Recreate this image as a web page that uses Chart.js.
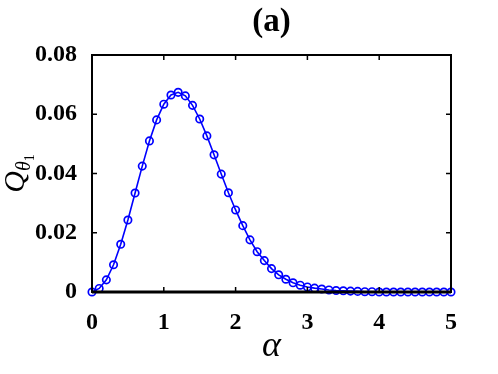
<!DOCTYPE html>
<html>
<head>
<meta charset="utf-8">
<script src="https://cdn.jsdelivr.net/npm/chart.js@4/dist/chart.umd.min.js"></script>
<style>
  html, body { margin: 0; padding: 0; background: #fff; }
  #wrap { width: 498px; height: 374px; }
</style>
</head>
<body>
<div id="wrap"><canvas id="qChart" width="498" height="374"></canvas></div>
<script>
// alpha from 0 to 5, step 0.1
const alphaVals = [
  0.0, 0.1, 0.2, 0.3, 0.4, 0.5, 0.6, 0.7, 0.8, 0.9,
  1.0, 1.1, 1.2, 1.3, 1.4, 1.5, 1.6, 1.7, 1.8, 1.9,
  2.0, 2.1, 2.2, 2.3, 2.4, 2.5, 2.6, 2.7, 2.8, 2.9,
  3.0, 3.1, 3.2, 3.3, 3.4, 3.5, 3.6, 3.7, 3.8, 3.9,
  4.0, 4.1, 4.2, 4.3, 4.4, 4.5, 4.6, 4.7, 4.8, 4.9, 5.0
];
const qVals = [
  0.0000, 0.0012, 0.0041, 0.0092, 0.0161, 0.0243, 0.0334, 0.0425, 0.0510, 0.0581,
  0.0634, 0.0665, 0.0674, 0.0662, 0.0630, 0.0584, 0.0527, 0.0463, 0.0398, 0.0335,
  0.0277, 0.0224, 0.0176, 0.0136, 0.0106, 0.0079, 0.0058, 0.0043, 0.0031, 0.0023,
  0.0017, 0.0013, 0.0010, 0.0007, 0.0005, 0.0004, 0.0003, 0.0002, 0.0001, 0.0001,
  0.0000, 0.0000, 0.0000, 0.0000, 0.0000, 0.0000, 0.0000, 0.0000, 0.0000, 0.0000, 0.0000
];
const xTicks = [0, 1, 2, 3, 4, 5];
const yTicks = [0, 0.02, 0.04, 0.06, 0.08];

const SERIF = '"Liberation Serif", "DejaVu Serif", serif';

// frame, inward ticks and the axis labels
const framePlugin = {
  id: 'frame',
  afterDraw(chart) {
    const { ctx, chartArea: a, scales } = chart;
    ctx.save();
    ctx.strokeStyle = '#000';
    ctx.lineWidth = 1.5;
    const tl = 5;
    ctx.beginPath();
    xTicks.forEach(v => {
      const px = scales.x.getPixelForValue(v);
      ctx.moveTo(px, a.bottom); ctx.lineTo(px, a.bottom - tl);
      ctx.moveTo(px, a.top); ctx.lineTo(px, a.top + tl);
    });
    yTicks.forEach(v => {
      const py = scales.y.getPixelForValue(v);
      ctx.moveTo(a.left, py); ctx.lineTo(a.left + tl, py);
      ctx.moveTo(a.right, py); ctx.lineTo(a.right - tl, py);
    });
    ctx.stroke();
    ctx.lineWidth = 2;
    ctx.strokeRect(a.left, a.top, a.right - a.left, a.bottom - a.top);
    // thicker bottom axis
    ctx.lineWidth = 3;
    ctx.beginPath();
    ctx.moveTo(a.left, a.bottom); ctx.lineTo(a.right, a.bottom);
    ctx.stroke();

    ctx.fillStyle = '#000';
    // title
    ctx.font = 'bold 33px ' + SERIF;
    ctx.textAlign = 'center';
    ctx.textBaseline = 'middle';
    ctx.fillText('(a)', (a.left + a.right) / 2, 22);
    // x label
    ctx.font = 'italic 36px ' + SERIF;
    ctx.fillText('\u03b1', (a.left + a.right) / 2, 347);
    // y label, rotated
    ctx.translate(24, (a.top + a.bottom) / 2);
    ctx.rotate(-Math.PI / 2);
    ctx.textBaseline = 'alphabetic';
    ctx.textAlign = 'left';
    ctx.font = 'italic 30px ' + SERIF;
    const qw = ctx.measureText('Q').width;
    ctx.font = 'italic 20px ' + SERIF;
    const tw = ctx.measureText('\u03b8').width;
    ctx.font = '14px ' + SERIF;
    const ow = ctx.measureText('1').width;
    const x0 = -(qw + tw + ow) / 2;
    ctx.font = 'italic 30px ' + SERIF;
    ctx.fillText('Q', x0, 0);
    ctx.font = 'italic 20px ' + SERIF;
    ctx.fillText('\u03b8', x0 + qw, 6);
    ctx.font = '14px ' + SERIF;
    ctx.fillText('1', x0 + qw + tw, 10);
    ctx.restore();
  }
};

new Chart(document.getElementById('qChart'), {
  type: 'line',
  data: {
    datasets: [{
      data: alphaVals.map((x, i) => ({ x: x, y: qVals[i] })),
      borderColor: '#0000ff',
      borderWidth: 1.6,
      backgroundColor: 'rgba(0,0,0,0)',
      pointBorderColor: '#0000ff',
      pointBackgroundColor: 'rgba(0,0,0,0)',
      pointBorderWidth: 1.7,
      pointRadius: 3.7,
      tension: 0,
      clip: false
    }]
  },
  options: {
    responsive: false,
    animation: false,
    devicePixelRatio: 1,
    layout: { padding: { top: 55, right: 47, left: 0, bottom: 0 } },
    plugins: { legend: { display: false }, tooltip: { enabled: false } },
    scales: {
      x: {
        type: 'linear',
        min: 0, max: 5,
        afterBuildTicks: s => { s.ticks = xTicks.map(v => ({ value: v })); },
        afterFit: s => { s.height = 82; },
        grid: { display: false },
        border: { display: false },
        ticks: {
          color: '#000',
          padding: 8,
          font: { family: SERIF, size: 24, weight: 'bold' },
          callback: v => String(v)
        }
      },
      y: {
        type: 'linear',
        min: 0, max: 0.08,
        afterBuildTicks: s => { s.ticks = yTicks.map(v => ({ value: v })); },
        afterFit: s => { s.width = 92; },
        grid: { display: false },
        border: { display: false },
        ticks: {
          color: '#000',
          padding: 7,
          font: { family: SERIF, size: 24, weight: 'bold' },
          callback: v => v === 0 ? '0' : v.toFixed(2)
        }
      }
    }
  },
  plugins: [framePlugin]
});
</script>
</body>
</html>
